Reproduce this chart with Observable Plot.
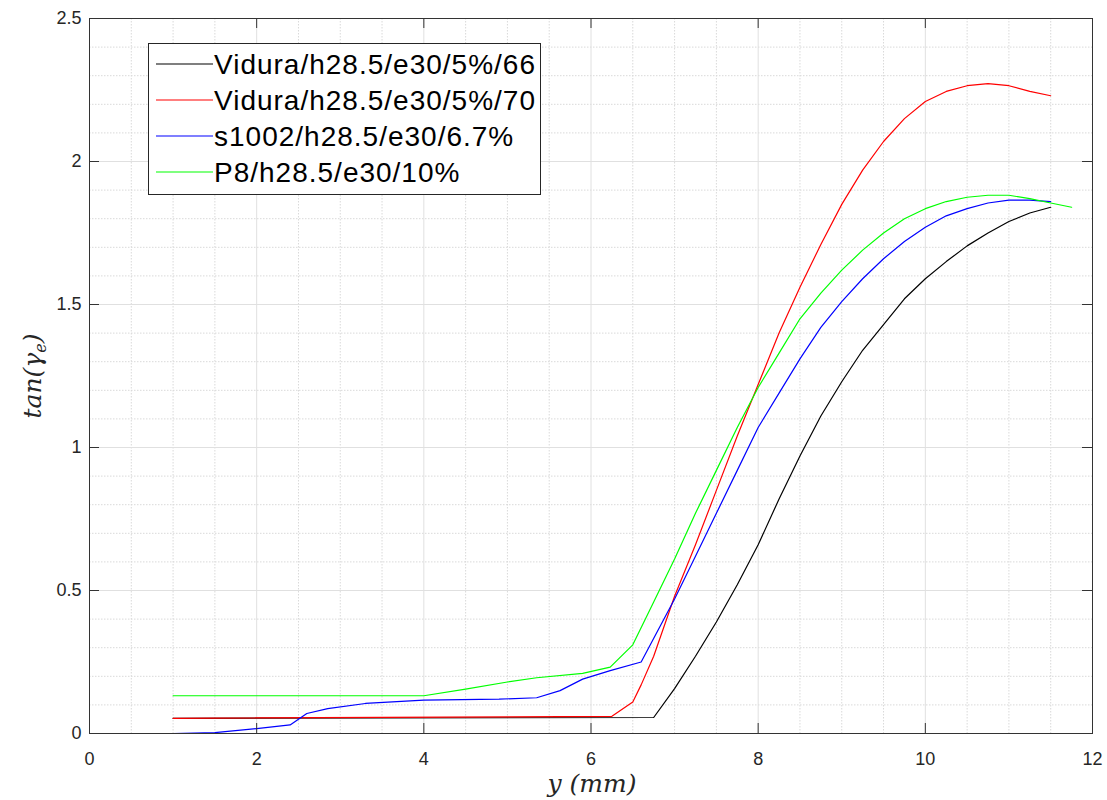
<!DOCTYPE html>
<html><head><meta charset="utf-8">
<script src="https://cdn.jsdelivr.net/npm/d3@7"></script>
<script src="https://cdn.jsdelivr.net/npm/@observablehq/plot@0.6"></script>
<style>
body{margin:0;background:#fff;}
#chart{position:relative;width:1107px;height:800px;}
</style>
</head><body><div id="chart"></div>
<script>
const seriesNames = ["Vidura/h28.5/e30/5%/66", "Vidura/h28.5/e30/5%/70", "s1002/h28.5/e30/6.7%", "P8/h28.5/e30/10%"];
const seriesColors = ["#000000", "#ff0000", "#0000ff", "#00ff00"];

const x66 = [1, 6.75, 7.0, 7.25, 7.5, 7.75, 8.0, 8.25, 8.5, 8.75, 9.0, 9.25, 9.5, 9.75, 10, 10.25, 10.5, 10.75, 11, 11.25, 11.5];
const y66 = [0.053, 0.056, 0.157, 0.27, 0.39, 0.52, 0.66, 0.82, 0.97, 1.11, 1.23, 1.34, 1.43, 1.52, 1.59, 1.65, 1.705, 1.75, 1.79, 1.82, 1.84];

const x70 = [1, 6.25, 6.5, 6.6, 6.75, 7.0, 7.25, 7.5, 7.75, 8.0, 8.25, 8.5, 8.75, 9.0, 9.25, 9.5, 9.75, 10, 10.25, 10.5, 10.75, 11, 11.25, 11.5];
const y70 = [0.053, 0.06, 0.11, 0.17, 0.27, 0.48, 0.66, 0.85, 1.04, 1.22, 1.40, 1.56, 1.71, 1.85, 1.97, 2.07, 2.15, 2.21, 2.245, 2.265, 2.272, 2.265, 2.245, 2.23];

const xS1002 = [1, 1.5, 2.0, 2.4, 2.6, 2.85, 3.3, 4.0, 4.9, 5.35, 5.63, 5.9, 6.23, 6.6, 7.0, 7.25, 7.5, 7.75, 8.0, 8.25, 8.5, 8.75, 9.0, 9.25, 9.5, 9.75, 10, 10.25, 10.5, 10.75, 11, 11.25, 11.5];
const yS1002 = [0, 0.003, 0.017, 0.03, 0.07, 0.087, 0.105, 0.117, 0.12, 0.125, 0.15, 0.19, 0.22, 0.25, 0.47, 0.62, 0.77, 0.92, 1.07, 1.19, 1.31, 1.42, 1.51, 1.59, 1.66, 1.72, 1.77, 1.81, 1.835, 1.855, 1.865, 1.865, 1.86];

const xP8 = [1, 4.0, 4.5, 5.0, 5.35, 5.9, 6.23, 6.5, 6.75, 7.0, 7.25, 7.5, 7.75, 8.0, 8.25, 8.5, 8.75, 9.0, 9.25, 9.5, 9.75, 10, 10.25, 10.5, 10.75, 11, 11.25, 11.5, 11.75];
const yP8 = [0.132, 0.132, 0.155, 0.18, 0.195, 0.21, 0.232, 0.31, 0.46, 0.61, 0.77, 0.92, 1.07, 1.21, 1.33, 1.45, 1.54, 1.62, 1.69, 1.75, 1.80, 1.835, 1.86, 1.875, 1.882, 1.882, 1.87, 1.855, 1.84];

const xTicks = [0, 2, 4, 6, 8, 10, 12];
const yTicks = [0, 0.5, 1, 1.5, 2, 2.5];
const xMinor = [0.5, 1, 1.5, 2.5, 3, 3.5, 4.5, 5, 5.5, 6.5, 7, 7.5, 8.5, 9, 9.5, 10.5, 11, 11.5];
const yMinor = [0.1, 0.2, 0.3, 0.4, 0.6, 0.7, 0.8, 0.9, 1.1, 1.2, 1.3, 1.4, 1.6, 1.7, 1.8, 1.9, 2.1, 2.2, 2.3, 2.4];

const allX = [x66, x70, xS1002, xP8];
const allY = [y66, y70, yS1002, yP8];
const data = [];
seriesNames.forEach((name, i) => {
  allX[i].forEach((xv, j) => data.push({series: name, x: xv, y: allY[i][j]}));
});

const W = 1107, H = 800, mL = 89, mR = 15, mT = 18, mB = 67;
const innerW = W - mL - mR, innerH = H - mT - mB, tickLen = 10;
const axisColor = "#333333";

const plot = Plot.plot({
  width: W, height: H,
  marginLeft: mL, marginRight: mR, marginTop: mT, marginBottom: mB,
  style: {fontFamily: "'Liberation Sans', Arial, sans-serif", fontSize: "18px", color: "#262626", background: "white", overflow: "visible"},
  x: {domain: [0, 12]},
  y: {domain: [0, 2.5]},
  color: {domain: seriesNames, range: seriesColors},
  marks: [
    Plot.ruleX(xMinor, {stroke: "#d9d9d9", strokeDasharray: "1.5,1.5", strokeWidth: 1}),
    Plot.ruleY(yMinor, {stroke: "#d9d9d9", strokeDasharray: "1.5,1.5", strokeWidth: 1}),
    Plot.ruleX(xTicks, {stroke: "#e0e0e0", strokeWidth: 1}),
    Plot.ruleY(yTicks, {stroke: "#e0e0e0", strokeWidth: 1}),
    Plot.line(data, {x: "x", y: "y", z: "series", stroke: "series", strokeWidth: 1.2}),
    Plot.frame({stroke: axisColor}),
    // inward ticks on all four sides
    Plot.ruleX(xTicks, {stroke: axisColor, insetTop: innerH - tickLen}),
    Plot.ruleX(xTicks, {stroke: axisColor, insetBottom: innerH - tickLen}),
    Plot.ruleY(yTicks, {stroke: axisColor, insetRight: innerW - tickLen}),
    Plot.ruleY(yTicks, {stroke: axisColor, insetLeft: innerW - tickLen}),
    Plot.axisX({ticks: xTicks, tickSize: 0, tickPadding: 19, label: null}),
    Plot.axisY({ticks: yTicks, tickSize: 0, tickPadding: 8, label: null, tickFormat: d => String(d)})
  ]
});
document.getElementById("chart").appendChild(plot);

const svg = d3.select(plot);
// axis labels
svg.append("text")
  .attr("x", 592).attr("y", 792)
  .attr("text-anchor", "middle")
  .attr("font-family", "'DejaVu Serif', 'Liberation Serif', serif")
  .attr("font-style", "italic").attr("font-size", 25).attr("fill", "#262626")
  .text("y (mm)");
const yl = svg.append("text")
  .attr("transform", "translate(41,376) rotate(-90)")
  .attr("text-anchor", "middle")
  .attr("font-family", "'DejaVu Serif', 'Liberation Serif', serif")
  .attr("font-style", "italic").attr("font-size", 25).attr("fill", "#262626");
yl.append("tspan").text("tan(γ");
yl.append("tspan").attr("font-size", 16).attr("dy", 5).text("e");
yl.append("tspan").attr("dy", -5).text(")");

// legend
const lg = svg.append("g");
lg.append("rect").attr("x", 148.5).attr("y", 43.5).attr("width", 392).attr("height", 151)
  .attr("fill", "white").attr("stroke", "#262626").attr("stroke-width", 1);
const rowY = [64, 100, 136, 172];
seriesNames.forEach((name, i) => {
  lg.append("line").attr("x1", 156).attr("x2", 213).attr("y1", rowY[i]).attr("y2", rowY[i])
    .attr("stroke", seriesColors[i]).attr("stroke-width", 1.2);
  lg.append("text").attr("x", 214).attr("y", rowY[i]).attr("dy", "0.35em")
    .attr("text-anchor", "start")
    .attr("font-family", "'Liberation Sans', Arial, sans-serif").attr("font-size", 28)
    .attr("letter-spacing", 1)
    .attr("fill", "#000").text(name);
});
</script>
</body></html>
